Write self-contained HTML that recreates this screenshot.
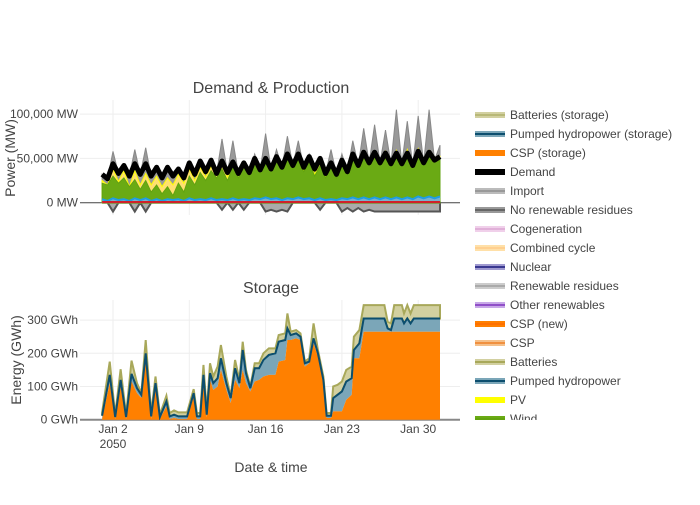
<!DOCTYPE html>
<html><head><meta charset="utf-8"><style>
body{margin:0;background:#fff;font-family:"Liberation Sans",sans-serif}
svg text{font-family:"Liberation Sans",sans-serif;fill:#444}
</style></head><body>
<svg id="c" width="700" height="500" xmlns="http://www.w3.org/2000/svg">
<defs>
<clipPath id="cp1"><rect x="80" y="100" width="380" height="120"/></clipPath>
<clipPath id="cp2"><rect x="80" y="300" width="380" height="120"/></clipPath>
<clipPath id="cpl"><rect x="465" y="100" width="235" height="320"/></clipPath>
</defs>
<text x="271" y="93" text-anchor="middle" font-size="16">Demand &amp; Production</text>
<text x="271" y="293" text-anchor="middle" font-size="16">Storage</text>
<text x="271" y="472" text-anchor="middle" font-size="14">Date &amp; time</text>
<text transform="translate(15,158) rotate(-90)" text-anchor="middle" font-size="14">Power (MW)</text>
<text transform="translate(21,360) rotate(-90)" text-anchor="middle" font-size="14">Energy (GWh)</text>
<g id="grid"></g>
<g id="topChart" clip-path="url(#cp1)"></g>
<g id="botChart" clip-path="url(#cp2)"></g>
<g id="axes"></g>
<g id="legend" clip-path="url(#cpl)"></g>
</svg>
<script>
// ---- data: top chart (half-day steps from Jan 1) ----
const demand=[32,27,44,33,42,30,44,32,44,30,40,28,40,30,38,28,45,32,47,35,48,33,47,34,46,33,45,34,50,37,50,38,52,40,55,42,55,40,52,38,50,33,45,32,48,35,55,42,57,45,57,45,56,44,56,44,56,42,58,45,57,48,52];
const wind=[22,20,30,22,28,18,26,15,25,12,20,10,18,8,22,12,30,20,34,25,36,28,38,25,40,28,42,30,46,34,46,36,48,38,50,38,48,35,45,30,42,28,40,28,44,32,50,40,52,42,54,42,54,42,55,42,55,40,57,44,55,46,50];
const pv=[3,0,8,2,8,0,10,5,8,8,10,8,10,12,10,10,8,5,6,4,5,3,4,4,3,3,2,2,3,2,2,1,2,1,2,1,3,2,3,2,4,2,3,2,2,1,3,1,3,1,4,1,4,1,4,1,5,1,4,1,4,1,2];
const gross=[32,27,58,33,42,30,60,32,62,30,40,28,40,30,38,28,45,32,47,35,48,33,72,34,70,33,45,34,55,37,78,38,60,40,75,42,70,40,55,38,50,33,60,32,55,35,70,42,84,45,88,45,82,44,105,44,92,42,98,45,105,48,65];
const neg=[0,0,-10,0,0,0,-10,0,-10,0,0,0,0,0,0,0,0,0,0,0,0,0,-8,0,-8,0,-8,0,0,0,-10,-8,-10,-8,-10,0,0,0,0,0,-8,0,0,0,-10,-6,-10,-6,-10,-8,-10,-10,-10,-10,-10,-10,-10,-10,-10,-10,-10,-10,-10];
const pumpedP=[4,2,5,3,4,2,5,3,5,2,4,2,4,3,4,2,5,3,4,3,5,3,4,3,5,3,4,3,5,4,6,4,5,3,5,4,6,4,5,3,5,3,4,3,5,4,6,4,6,4,6,4,6,4,6,4,6,4,7,5,7,5,7];
// ---- data: storage ----
const sDays=[1.0,1.7,2.2,2.7,3.2,3.7,4.2,4.6,5.0,5.5,5.9,6.3,6.9,7.2,7.6,8.0,8.5,8.8,9.4,9.7,10.0,10.3,10.6,10.9,11.2,11.6,11.9,12.4,12.8,13.2,13.6,13.9,14.2,14.6,15.0,15.4,15.8,16.3,16.9,17.2,17.8,18.0,18.3,18.8,19.2,19.6,20.0,20.4,20.8,21.3,21.6,22.0,22.2,22.6,23.0,23.4,23.9,24.1,24.6,25.0,26.0,26.9,27.2,27.5,27.8,28.5,28.7,29.0,29.3,29.6,32.0];
const sTotal=[22,175,15,152,15,178,110,80,240,20,130,15,72,20,28,22,22,22,92,20,20,165,25,170,130,160,225,130,70,180,120,235,150,100,170,170,200,215,215,255,260,320,265,270,260,175,185,290,210,130,20,20,100,105,115,150,160,250,270,345,345,345,295,290,345,345,320,345,320,345,345];
const sPumped=[12,135,8,120,8,138,95,75,200,10,110,8,55,10,15,10,10,10,80,10,10,135,15,140,110,125,185,110,65,155,110,210,140,95,155,155,180,195,200,235,240,275,255,260,250,170,175,245,200,120,12,12,65,75,85,115,125,210,230,305,305,305,275,270,305,305,290,305,290,305,305];
const sCsp=[2,110,2,100,2,115,80,65,180,3,95,2,40,2,5,2,2,2,70,2,2,110,8,120,90,100,150,90,50,120,95,150,110,85,115,120,130,135,135,175,180,240,240,245,240,160,170,230,190,115,5,5,25,25,25,60,75,185,185,265,265,265,265,265,265,265,265,265,265,265,265];
const xTickLabels=["Jan 2","Jan 9","Jan 16","Jan 23","Jan 30"];
const xTickDays=[2,9,16,23,30];
const yTopTicks=[0,50000,100000];
const yBotTicks=[0,100,200,300];

const NS="http://www.w3.org/2000/svg";
function mk(tag,attrs,parent){const e=document.createElementNS(NS,tag);for(const k in attrs)e.setAttribute(k,attrs[k]);parent.appendChild(e);return e;}
const X=d=>113+(d-2)*10.9;
const YT=v=>202.7-v*0.000886;
const YB=v=>419.7-v*0.332;
const hd=i=>1+i*0.5;

const grid=document.getElementById('grid'),axes=document.getElementById('axes');
xTickDays.forEach((d,i)=>{
  let g1=mk('line',{x1:X(d),x2:X(d),y1:100,y2:215,stroke:'#eee'},grid);
  
  let g2=mk('line',{x1:X(d),x2:X(d),y1:300,y2:419,stroke:'#eee'},grid);
  
  let t=mk('text',{x:X(d),y:433,'text-anchor':'middle','font-size':12},axes);t.textContent=xTickLabels[i];
  
});
let yr=mk('text',{x:X(2),y:448,'text-anchor':'middle','font-size':12},axes);yr.textContent='2050';

yTopTicks.forEach(v=>{
  let l=mk('line',{x1:80,x2:460,y1:YT(v),y2:YT(v),stroke:v?'#eee':'#444'},grid);
  
  let t=mk('text',{x:78,y:YT(v)+4,'text-anchor':'end','font-size':12},axes);t.textContent=v.toLocaleString('en-US')+' MW';
  
});
yBotTicks.forEach(v=>{
  let l=mk('line',{x1:80,x2:460,y1:YB(v),y2:YB(v),stroke:v?'#eee':'#888','stroke-width':v?1:2},grid);
  
  let t=mk('text',{x:78,y:YB(v)+4,'text-anchor':'end','font-size':12},axes);t.textContent=v+' GWh';
  
});

function areaPath(xs,tp,bt){let p='M'+xs[0]+','+tp[0];for(let i=1;i<xs.length;i++)p+='L'+xs[i]+','+tp[i];for(let i=xs.length-1;i>=0;i--)p+='L'+xs[i]+','+bt[i];return p+'Z';}
function linePath(xs,ys){return 'M'+xs.map((x,i)=>x+','+ys[i]).join('L');}

const topG=document.getElementById('topChart');
const tx=demand.map((_,i)=>X(hd(i)));
const z=demand.map(()=>YT(0));
let a;
a=mk('path',{d:areaPath(tx,neg.map(v=>YT(v*1000)),z),fill:'#aaa',stroke:'#555','stroke-width':2},topG);

a=mk('path',{d:areaPath(tx,gross.map(v=>YT(v*1000)),z),fill:'#999',stroke:'#888','stroke-width':1},topG);

a=mk('path',{d:areaPath(tx,wind.map((v,i)=>YT((v+pv[i])*1000)),z),fill:'#ffe070',stroke:'#ffff00','stroke-width':1},topG);

a=mk('path',{d:areaPath(tx,wind.map(v=>YT(v*1000)),z),fill:'#6aaa14',stroke:'#62a30f','stroke-width':1},topG);

a=mk('path',{d:areaPath(tx,pumpedP.map(v=>YT(v*1000)),z),fill:'#7ab0cc'},topG);

a=mk('path',{d:linePath(tx,pumpedP.map(v=>YT(v*1000))),fill:'none',stroke:'#1f9ee0','stroke-width':2},topG);

a=mk('line',{x1:X(1),x2:X(32),y1:YT(800),y2:YT(800),stroke:'#d0202a','stroke-width':2},topG);

a=mk('path',{d:linePath(tx,demand.map(v=>YT(v*1000))),fill:'none',stroke:'#000','stroke-width':5,'stroke-linejoin':'round'},topG);


const botG=document.getElementById('botChart');
const bx=sDays.map(X),bz=sDays.map(()=>YB(0));
a=mk('path',{d:areaPath(bx,sTotal.map(YB),sPumped.map(YB)),fill:'#d2d0a0',stroke:'#a8a85a','stroke-width':2},botG);

a=mk('path',{d:areaPath(bx,sPumped.map(YB),sCsp.map(YB)),fill:'#7ba6b8'},botG);

a=mk('path',{d:areaPath(bx,sCsp.map(YB),bz),fill:'#ff8000'},botG);

a=mk('path',{d:linePath(bx,sPumped.map(YB)),fill:'none',stroke:'#0c4e6e','stroke-width':2},botG);


const legNames=["Batteries (storage)","Pumped hydropower (storage)","CSP (storage)","Demand","Import","No renewable residues","Cogeneration","Combined cycle","Nuclear","Renewable residues","Other renewables","CSP (new)","CSP","Batteries","Pumped hydropower","PV","Wind"];
const legFill=['#d2d0a0','#7ba6b8','#ff8000','#000','#bbb','#999','#f0d0ea','#ffe0a8','#a09ad0','#ccc','#c8a8e8','#ff8000','#f5c08a','#d2d0a0','#7ba6b8','#ffff00','#6aaa14'];
const legLine=['#b8b878','#0c4e6e','#ff8000','#000','#999','#666','#e0b0d8','#ffd090','#3a3890','#aaa','#9050c8','#ff7000','#f09040','#a8a85a','#0c4e6e','#ffff00','#62a30f'];
const leg=document.getElementById('legend');
legNames.forEach((n,i)=>{
  const y=115+i*19;
  const g=mk('g',{},leg);
  
  
  mk('rect',{x:475,y:y-3,width:30,height:6,fill:legFill[i]},g);
  mk('line',{x1:475,x2:505,y1:y,y2:y,stroke:legLine[i],'stroke-width':2},g);
  const t=mk('text',{x:510,y:y+4,'font-size':12},g);t.textContent=n;
});
</script>
</body></html>
